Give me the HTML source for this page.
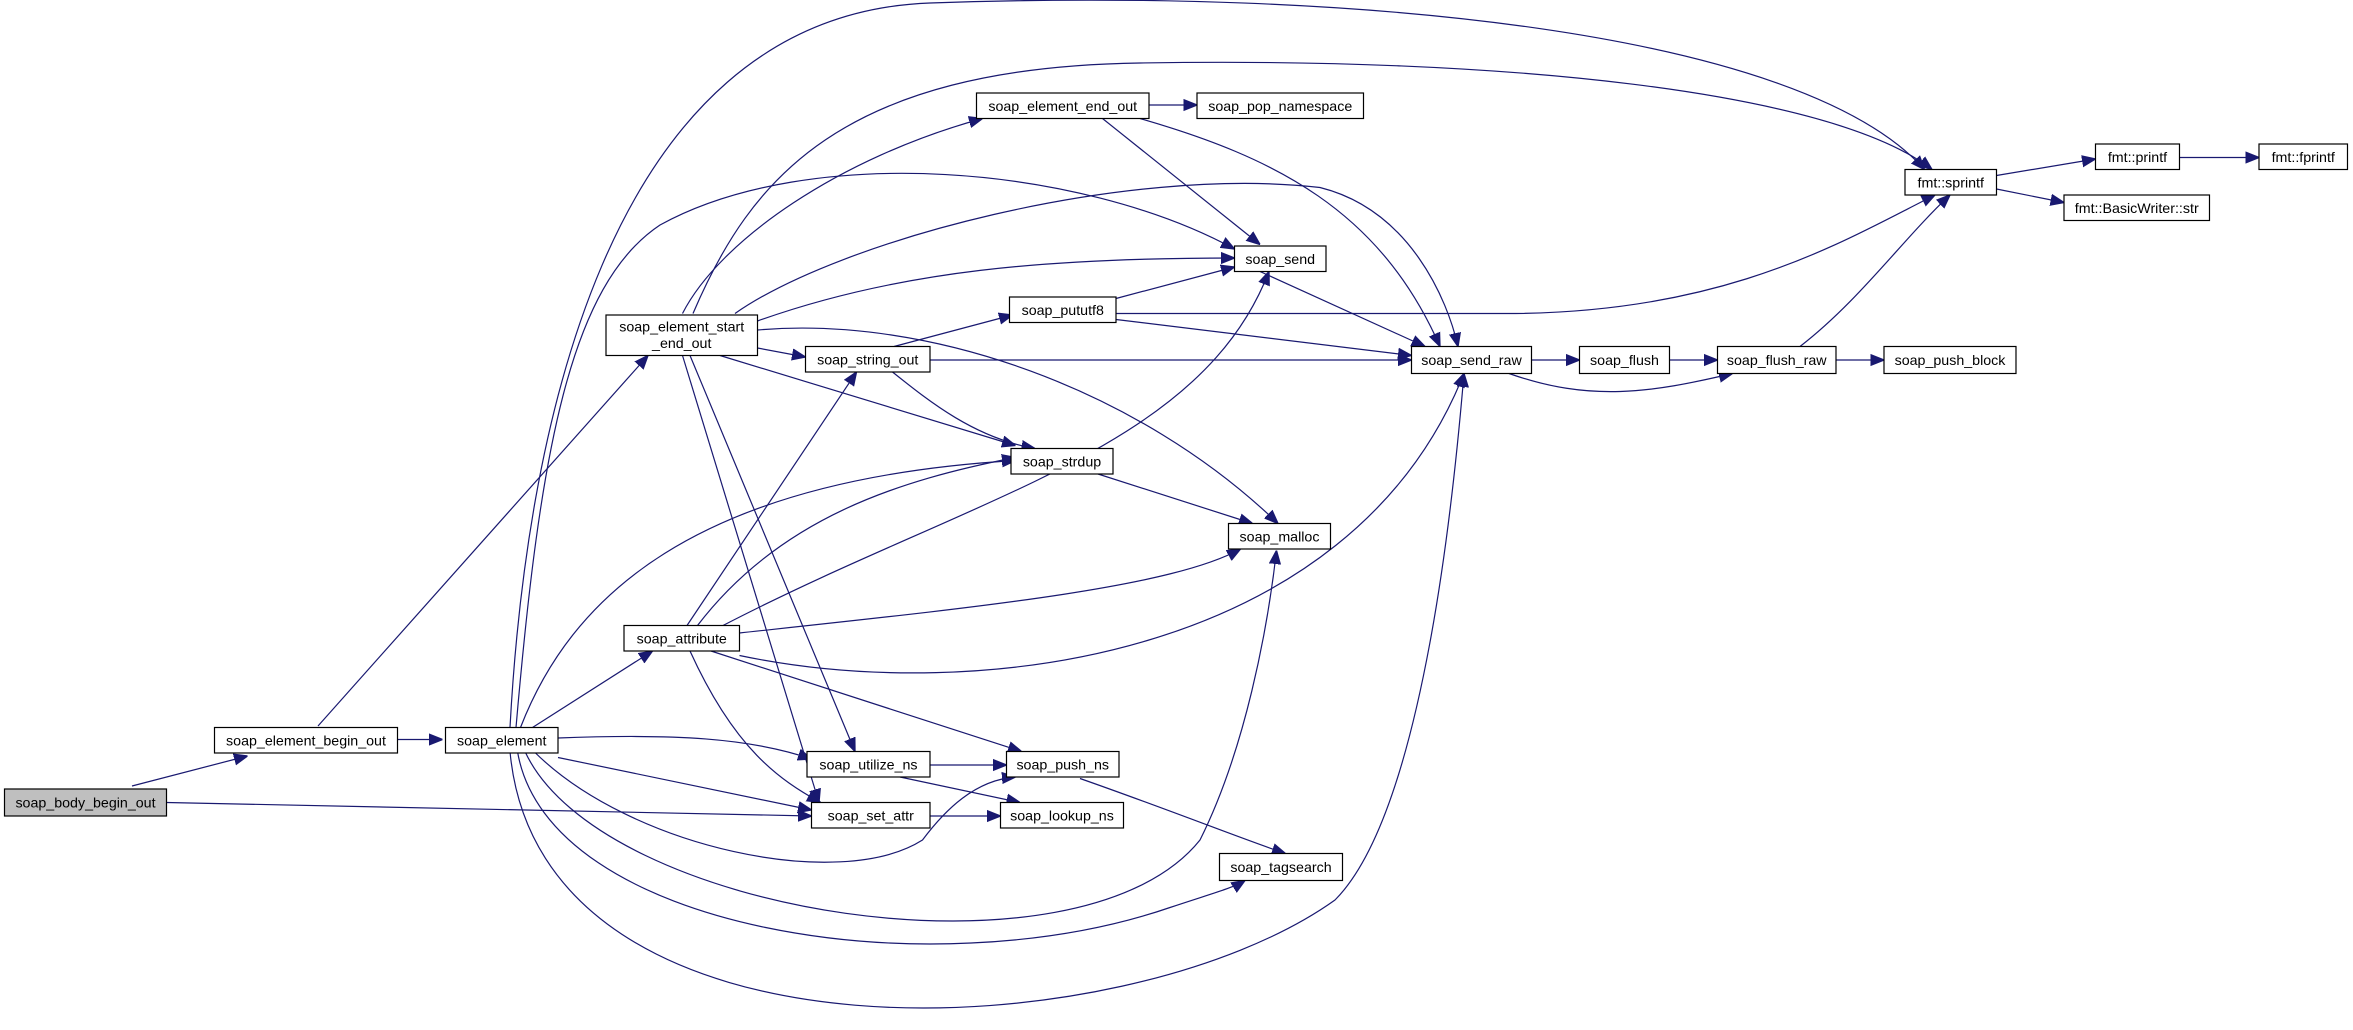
<!DOCTYPE html>
<html><head><meta charset="utf-8"><style>
html,body{margin:0;padding:0;background:#fff;}
svg{display:block;}
text{font-family:"Liberation Sans",sans-serif;font-size:9.5px;fill:#000;}
.n{fill:#fff;stroke:#000;stroke-width:0.8;}
.e{fill:none;stroke:#191970;stroke-width:0.8;marker-end:url(#a);}
</style></head><body>
<svg width="2353" height="1030" viewBox="0 0 1568.67 686.67">
<defs><marker id="a" viewBox="0 0 10 10" refX="10" refY="5" markerWidth="9" markerHeight="9" markerUnits="userSpaceOnUse" orient="auto"><path d="M0,1 L10,5 L0,9 z" fill="#191970" stroke="#191970"/></marker></defs>
<g>
<path class="e" d="M88,524 L165,504"/>
<path class="e" d="M111,535 C300,538 450,542 541,544"/>
<path class="e" d="M212,484 L432,237"/>
<path class="e" d="M265,493 L295,493"/>
<!-- start_end_out -->
<path class="e" d="M455,209 C480,160 560,105 655,79"/>
<path class="e" d="M462,209 C500,120 560,45 760,42 C1000,38 1220,60 1288,113"/>
<path class="e" d="M505,214 C600,180 700,172 823,172"/>
<path class="e" d="M490,209 C560,160 750,110 880,125 C940,140 965,200 972,231"/>
<path class="e" d="M505,232 L537,238"/>
<path class="e" d="M480,237 L677,297"/>
<path class="e" d="M505,220 C620,210 760,260 852,349"/>
<path class="e" d="M460,237 L570,501"/>
<path class="e" d="M455,237 L546,535"/>
<!-- element -->
<path class="e" d="M340,485 C350,300 400,10 620,2 C900,-8 1200,20 1283,113"/>
<path class="e" d="M344,485 C360,300 380,190 440,150 C540,95 720,110 823,166"/>
<path class="e" d="M355,485 L435,434"/>
<path class="e" d="M347,485 C380,400 460,320 677,307"/>
<path class="e" d="M372,492 C450,489 500,492 541,506"/>
<path class="e" d="M372,505 L541,540"/>
<path class="e" d="M356,501 C420,565 560,595 615,560 C630,540 650,520 677,518"/>
<path class="e" d="M350,501 C400,610 720,660 800,560 C830,500 845,420 851,367"/>
<path class="e" d="M345,501 C365,620 620,660 780,605 C810,595 822,592 830,587"/>
<path class="e" d="M340,501 C360,720 750,700 890,600 C950,540 970,320 976,249"/>
<!-- attribute -->
<path class="e" d="M458,417 L571,248"/>
<path class="e" d="M465,417 C520,345 600,320 677,305"/>
<path class="e" d="M482,417 C650,330 800,300 846,181"/>
<path class="e" d="M493,422 C650,405 780,392 827,366"/>
<path class="e" d="M493,437 C650,470 900,440 976,249"/>
<path class="e" d="M474,434 L681,501"/>
<path class="e" d="M460,434 C490,500 520,520 547,535"/>
<!-- string_out -->
<path class="e" d="M596,231 L675,210"/>
<path class="e" d="M620,240 L941,240"/>
<path class="e" d="M595,248 C620,268 650,292 690,299"/>
<!-- pututf8 -->
<path class="e" d="M744,199 L823,178"/>
<path class="e" d="M744,213 L941,237"/>
<path class="e" d="M744,209 L1000,209 C1150,210 1230,160 1290,130"/>
<!-- element_end_out -->
<path class="e" d="M766,70 L798,70"/>
<path class="e" d="M735,79 L840,163"/>
<path class="e" d="M760,79 C850,105 920,140 960,231"/>
<path class="e" d="M840,181 L950,231"/>
<path class="e" d="M732,316 L835,349"/>
<path class="e" d="M1021,240 L1053,240"/>
<path class="e" d="M1113,240 L1145,240"/>
<path class="e" d="M1006,249 C1060,268 1100,262 1155,249"/>
<path class="e" d="M1224,240 L1256,240"/>
<path class="e" d="M1200,231 C1240,200 1268,160 1300,130"/>
<path class="e" d="M1331,117 L1397,106"/>
<path class="e" d="M1331,126 L1376,135"/>
<path class="e" d="M1453,105 L1506,105"/>
<path class="e" d="M620,510 L671,510"/>
<path class="e" d="M600,518 L680,535"/>
<path class="e" d="M620,544 L667,544"/>
<path class="e" d="M720,519 C780,540 830,560 857,569"/>
</g>
<g>
<rect x="3" y="526" width="108" height="18" fill="#bfbfbf" stroke="#000" stroke-width="0.8"/><text x="57" y="538.5" text-anchor="middle">soap_body_begin_out</text>
<rect class="n" x="143" y="485" width="122" height="17"/><text x="204" y="497" text-anchor="middle">soap_element_begin_out</text>
<rect class="n" x="297" y="485" width="75" height="17"/><text x="334.5" y="497" text-anchor="middle">soap_element</text>
<rect class="n" x="404" y="210" width="101" height="27"/><text x="454.5" y="221" text-anchor="middle">soap_element_start</text><text x="454.5" y="232" text-anchor="middle">_end_out</text>
<rect class="n" x="416" y="417" width="77" height="17"/><text x="454.5" y="429" text-anchor="middle">soap_attribute</text>
<rect class="n" x="537" y="231" width="83" height="17"/><text x="578.5" y="243" text-anchor="middle">soap_string_out</text>
<rect class="n" x="538" y="501" width="82" height="17"/><text x="579" y="513" text-anchor="middle">soap_utilize_ns</text>
<rect class="n" x="541" y="535" width="79" height="17"/><text x="580.5" y="547" text-anchor="middle">soap_set_attr</text>
<rect class="n" x="651" y="62" width="115" height="17"/><text x="708.5" y="74" text-anchor="middle">soap_element_end_out</text>
<rect class="n" x="798" y="62" width="111" height="17"/><text x="853.5" y="74" text-anchor="middle">soap_pop_namespace</text>
<rect class="n" x="823" y="164" width="61" height="17"/><text x="853.5" y="176" text-anchor="middle">soap_send</text>
<rect class="n" x="673" y="198" width="71" height="17"/><text x="708.5" y="210" text-anchor="middle">soap_pututf8</text>
<rect class="n" x="674" y="299" width="68" height="17"/><text x="708" y="311" text-anchor="middle">soap_strdup</text>
<rect class="n" x="819" y="349" width="68" height="17"/><text x="853" y="361" text-anchor="middle">soap_malloc</text>
<rect class="n" x="671" y="501" width="75" height="17"/><text x="708.5" y="513" text-anchor="middle">soap_push_ns</text>
<rect class="n" x="667" y="535" width="82" height="17"/><text x="708" y="547" text-anchor="middle">soap_lookup_ns</text>
<rect class="n" x="813" y="569" width="82" height="18"/><text x="854" y="581.5" text-anchor="middle">soap_tagsearch</text>
<rect class="n" x="941" y="231" width="80" height="18"/><text x="981" y="243.5" text-anchor="middle">soap_send_raw</text>
<rect class="n" x="1053" y="231" width="60" height="18"/><text x="1083" y="243.5" text-anchor="middle">soap_flush</text>
<rect class="n" x="1145" y="231" width="79" height="18"/><text x="1184.5" y="243.5" text-anchor="middle">soap_flush_raw</text>
<rect class="n" x="1256" y="231" width="88" height="18"/><text x="1300" y="243.5" text-anchor="middle">soap_push_block</text>
<rect class="n" x="1270" y="113" width="61" height="17"/><text x="1300.5" y="125" text-anchor="middle">fmt::sprintf</text>
<rect class="n" x="1397" y="96" width="56" height="17"/><text x="1425" y="108" text-anchor="middle">fmt::printf</text>
<rect class="n" x="1506" y="96" width="59" height="17"/><text x="1535.5" y="108" text-anchor="middle">fmt::fprintf</text>
<rect class="n" x="1376" y="130" width="97" height="17"/><text x="1424.5" y="142" text-anchor="middle">fmt::BasicWriter::str</text>
</g>
</svg>
</body></html>
